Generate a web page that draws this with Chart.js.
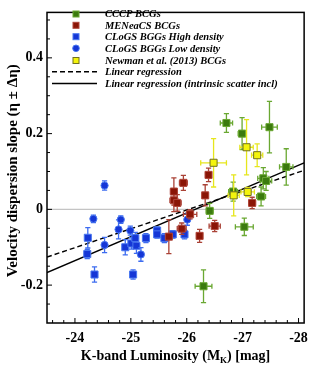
<!DOCTYPE html>
<html><head><meta charset="utf-8">
<script src="https://cdn.jsdelivr.net/npm/chart.js@4.4.0/dist/chart.umd.min.js"></script>
<style>html,body{margin:0;padding:0;background:#fff;overflow:hidden}#wrap{width:315px;height:371px;position:relative}</style>
</head><body><div id="wrap"><canvas id="c" width="315" height="371"></canvas></div>
<script>
const xTicks = [-24, -25, -26, -27, -28];
const yTicks = [-0.2, 0, 0.2, 0.4];

// CCCP BCGs
const cccpX    = [-26.71, -26.99, -27.48, -27.78, -27.37, -27.42, -27.33, -26.83, -26.41, -27.03, -26.30];
const cccpY    = [0.228, 0.200, 0.217, 0.112, 0.082, 0.075, 0.034, 0.047, -0.004, -0.046, -0.203];
const cccpXerr = [0.11, 0.07, 0.14, 0.12, 0.10, 0.10, 0.08, 0.08, 0.06, 0.16, 0.15];
const cccpYerr = [0.025, 0.042, 0.068, 0.048, 0.028, 0.025, 0.025, 0.025, 0.02, 0.023, 0.043];

// MENeaCS BCGs
const menX    = [-26.39, -25.94, -25.77, -26.33, -25.77, -25.83, -26.06, -25.91, -26.50, -26.23, -25.68, -27.17];
const menY    = [0.091, 0.070, 0.047, 0.037, 0.024, 0.017, -0.013, -0.051, -0.044, -0.070, -0.072, 0.017];
const menXerr = [0.05, 0.07, 0.06, 0.05, 0.07, 0.07, 0.12, 0.08, 0.10, 0.05, 0.05, 0.06];
const menYerr = [0.018, 0.02, 0.036, 0.028, 0.03, 0.022, 0.012, 0.015, 0.015, 0.017, 0.045, 0.015];

// CLoGS BGGs High density
const hiX    = [-24.22, -24.23, -24.35, -24.90, -25.01, -25.04, -25.08, -25.10, -25.27, -25.47, -25.47, -25.60, -25.75, -25.96];
const hiY    = [-0.118, -0.075, -0.172, -0.100, -0.090, -0.172, -0.076, -0.096, -0.076, -0.056, -0.066, -0.076, -0.066, -0.066];
const hiYerr = [0.012, 0.027, 0.02, 0.02, 0.015, 0.012, 0.015, 0.02, 0.012, 0.01, 0.01, 0.012, 0.01, 0.012];

// CLoGS BGGs Low density
const loX    = [-24.53, -24.33, -24.53, -24.78, -24.82, -24.99, -25.18, -26.01];
const loY    = [0.063, -0.025, -0.094, -0.053, -0.027, -0.056, -0.119, -0.027];
const loYerr = [0.012, 0.01, 0.02, 0.025, 0.01, 0.012, 0.018, 0.015];

// Newman et al. (2013) BCGs
const newX    = [-26.48, -27.07, -27.26, -26.84, -27.09];
const newY    = [0.123, 0.164, 0.143, 0.037, 0.046];
const newXerr = [0.23, 0.12, 0.10, 0.10, 0.12];
const newYerr = [0.064, 0.073, 0.03, 0.054, 0.012];

// Regression lines (end points)
const regX      = [-23.5, -28.1];
const dashedY   = [-0.126, 0.103];
const solidY    = [-0.167, 0.123];

const legendLabels = ['CCCP BCGs', 'MENeaCS BCGs', 'CLoGS BGGs High density', 'CLoGS BGGs Low density', 'Newman et al. (2013) BCGs', 'Linear regression', 'Linear regression (intrinsic scatter incl)'];

const pts = (xs, ys) => xs.map((x, i) => ({x: x, y: ys[i]}));

const SERIF = '"Liberation Serif","DejaVu Serif",serif';

const datasets = [
  {label: legendLabels[4], data: pts(newX, newY), xerr: newXerr, yerr: newYerr, pointStyle: 'rect', pointRadius: 5, backgroundColor: '#f4f40c', borderColor: '#707020', borderWidth: 1, errColor: '#e6e61c', showLine: false},
  {label: legendLabels[0], data: pts(cccpX, cccpY), xerr: cccpXerr, yerr: cccpYerr, pointStyle: 'rect', pointRadius: 5, backgroundColor: '#3b7a0e', borderColor: '#6aa832', borderWidth: 1, errColor: '#6aa832', showLine: false},
  {label: legendLabels[1], data: pts(menX, menY), xerr: menXerr, yerr: menYerr, pointStyle: 'rect', pointRadius: 5, backgroundColor: '#8a1506', borderColor: '#b0463a', borderWidth: 1, errColor: '#aa4236', showLine: false},
  {label: legendLabels[3], data: pts(loX, loY), yerr: loYerr, pointStyle: 'circle', pointRadius: 3.6, backgroundColor: '#1536d6', borderColor: '#4a78f0', borderWidth: 1, errColor: '#3d6cf0', showLine: false},
  {label: legendLabels[2], data: pts(hiX, hiY), yerr: hiYerr, pointStyle: 'rect', pointRadius: 5, backgroundColor: '#1536d6', borderColor: '#4a78f0', borderWidth: 1, errColor: '#3d6cf0', showLine: false},
  {type: 'line', label: legendLabels[6], data: pts(regX, solidY), borderColor: '#000', borderWidth: 1.4, pointRadius: 0, fill: false},
  {type: 'line', label: legendLabels[5], data: pts(regX, dashedY), borderColor: '#000', borderWidth: 1.4, borderDash: [5, 3], pointRadius: 0, fill: false}
];

const custom = {
  id: 'custom',
  beforeDatasetsDraw(chart) {
    const ctx = chart.ctx, a = chart.chartArea, ys = chart.scales.y;
    const y0 = ys.getPixelForValue(0);
    ctx.save();
    ctx.strokeStyle = '#c4c4c4'; ctx.lineWidth = 1.3;
    ctx.beginPath(); ctx.moveTo(a.left, y0); ctx.lineTo(a.right, y0); ctx.stroke();
    ctx.restore();
  },
  beforeDatasetDraw(chart, args) {
    const ds = chart.data.datasets[args.index];
    if (!ds.yerr && !ds.xerr) return;
    const ctx = chart.ctx, xs = chart.scales.x, ys = chart.scales.y;
    ctx.save();
    ctx.strokeStyle = ds.errColor; ctx.lineWidth = 1.3;
    const cap = 2.6;
    ds.data.forEach((p, i) => {
      const px = xs.getPixelForValue(p.x), py = ys.getPixelForValue(p.y);
      ctx.beginPath();
      if (ds.yerr) {
        const t = ys.getPixelForValue(p.y + ds.yerr[i]), b = ys.getPixelForValue(p.y - ds.yerr[i]);
        ctx.moveTo(px, t); ctx.lineTo(px, b);
        ctx.moveTo(px - cap, t); ctx.lineTo(px + cap, t);
        ctx.moveTo(px - cap, b); ctx.lineTo(px + cap, b);
      }
      if (ds.xerr) {
        const l = xs.getPixelForValue(p.x + ds.xerr[i]), r = xs.getPixelForValue(p.x - ds.xerr[i]);
        ctx.moveTo(l, py); ctx.lineTo(r, py);
        ctx.moveTo(l, py - cap); ctx.lineTo(l, py + cap);
        ctx.moveTo(r, py - cap); ctx.lineTo(r, py + cap);
      }
      ctx.stroke();
    });
    ctx.restore();
  },
  afterDraw(chart) {
    const ctx = chart.ctx, a = chart.chartArea, xs = chart.scales.x, ys = chart.scales.y;
    ctx.save();
    // frame
    ctx.strokeStyle = '#000'; ctx.lineWidth = 1.5;
    ctx.strokeRect(a.left, a.top, a.right - a.left, a.bottom - a.top);
    // ticks inside
    ctx.lineWidth = 1;
    ctx.beginPath();
    for (let k = -280; k <= -235; k += 2) {
      const v = k / 10;
      const px = xs.getPixelForValue(v);
      if (px < a.left + 1 || px > a.right - 1) continue;
      const major = (k % 10 === 0);
      const len = major ? 5 : 3;
      ctx.moveTo(px, a.bottom); ctx.lineTo(px, a.bottom - len);
    }
    for (let k = -6; k <= 10; k++) {
      const v = k * 0.05;
      const py = ys.getPixelForValue(v);
      if (py < a.top + 1 || py > a.bottom - 1) continue;
      const major = (k % 4 === 0);
      const len = major ? 5 : 3;
      ctx.moveTo(a.left, py); ctx.lineTo(a.left + len, py);
    }
    ctx.stroke();

    // legend
    const rows = [14, 25.3, 36.7, 48.3, 60.5, 71.8, 83.5];
    const mx = 76, tx = 105;
    const styles = [
      {t: 'rect', f: '#3b7a0e', b: '#6aa832'},
      {t: 'rect', f: '#8a1506', b: '#b0463a'},
      {t: 'rect', f: '#1536d6', b: '#4a78f0'},
      {t: 'circle', f: '#1536d6', b: '#4a78f0'},
      {t: 'rect', f: '#f4f40c', b: '#707020'},
      {t: 'dash'},
      {t: 'solid'}
    ];
    ctx.font = 'italic bold 10.5px ' + SERIF;
    ctx.textBaseline = 'middle'; ctx.textAlign = 'left';
    styles.forEach((s, i) => {
      const y = rows[i];
      ctx.lineWidth = 1;
      if (s.t === 'rect') {
        ctx.fillStyle = s.f; ctx.strokeStyle = s.b;
        ctx.fillRect(mx - 3, y - 3, 6, 6); ctx.strokeRect(mx - 3, y - 3, 6, 6);
      } else if (s.t === 'circle') {
        ctx.fillStyle = s.f; ctx.strokeStyle = s.b;
        ctx.beginPath(); ctx.arc(mx, y, 3.3, 0, Math.PI * 2); ctx.fill(); ctx.stroke();
      } else {
        ctx.strokeStyle = '#000'; ctx.lineWidth = 1.4;
        ctx.setLineDash(s.t === 'dash' ? [5, 3] : []);
        ctx.beginPath(); ctx.moveTo(52, y); ctx.lineTo(97, y); ctx.stroke();
        ctx.setLineDash([]);
      }
      ctx.fillStyle = '#000';
      ctx.fillText(legendLabels[i], tx, y + 0.5);
    });

    // x title with subscript
    ctx.fillStyle = '#000';
    ctx.textBaseline = 'alphabetic';
    const big = 'bold 14px ' + SERIF, small = 'bold 9px ' + SERIF;
    const p1 = 'K-band Luminosity (M', p2 = 'K', p3 = ') [mag]';
    ctx.font = big; const w1 = ctx.measureText(p1).width, w3 = ctx.measureText(p3).width;
    ctx.font = small; const w2 = ctx.measureText(p2).width;
    const cx = (a.left + a.right) / 2;
    let sx = cx - (w1 + w2 + w3) / 2;
    const by = 360;
    ctx.font = big; ctx.fillText(p1, sx, by); sx += w1;
    ctx.font = small; ctx.fillText(p2, sx, by + 2.5); sx += w2;
    ctx.font = big; ctx.fillText(p3, sx, by);

    // y title
    ctx.save();
    ctx.translate(13, (a.top + a.bottom) / 2 + 3);
    ctx.rotate(-Math.PI / 2);
    ctx.textAlign = 'center'; ctx.textBaseline = 'middle';
    ctx.font = 'bold 15px ' + SERIF;
    ctx.fillText('Velocity dispersion slope (\u03B7 \u00B1 \u0394\u03B7)', 0, 0);
    ctx.restore();
    ctx.restore();
  }
};

new Chart(document.getElementById('c'), {
  type: 'scatter',
  data: {datasets: datasets},
  options: {
    responsive: false, animation: false,
    layout: {padding: {left: 0, right: 6, top: 6, bottom: 0}},
    plugins: {legend: {display: false}, tooltip: {enabled: false}},
    scales: {
      x: {
        type: 'linear', min: -28.1, max: -23.5, reverse: true,
        grid: {display: false, drawTicks: false},
        border: {display: false},
        afterFit: s => { s.height = 48; },
        afterBuildTicks: s => { s.ticks = xTicks.map(v => ({value: v})); },
        ticks: {padding: 7, color: '#000', font: {family: SERIF, weight: 'bold', size: 14}, callback: v => String(v), maxRotation: 0, autoSkip: false}
      },
      y: {
        type: 'linear', min: -0.3, max: 0.52,
        grid: {display: false, drawTicks: false},
        border: {display: false},
        afterFit: s => { s.width = 47; },
        afterBuildTicks: s => { s.ticks = yTicks.map(v => ({value: v})); },
        ticks: {padding: 4, color: '#000', font: {family: SERIF, weight: 'bold', size: 14}, callback: v => (v === 0 ? '0' : v.toFixed(1)), autoSkip: false}
      }
    }
  },
  plugins: [custom]
});
</script></body></html>
